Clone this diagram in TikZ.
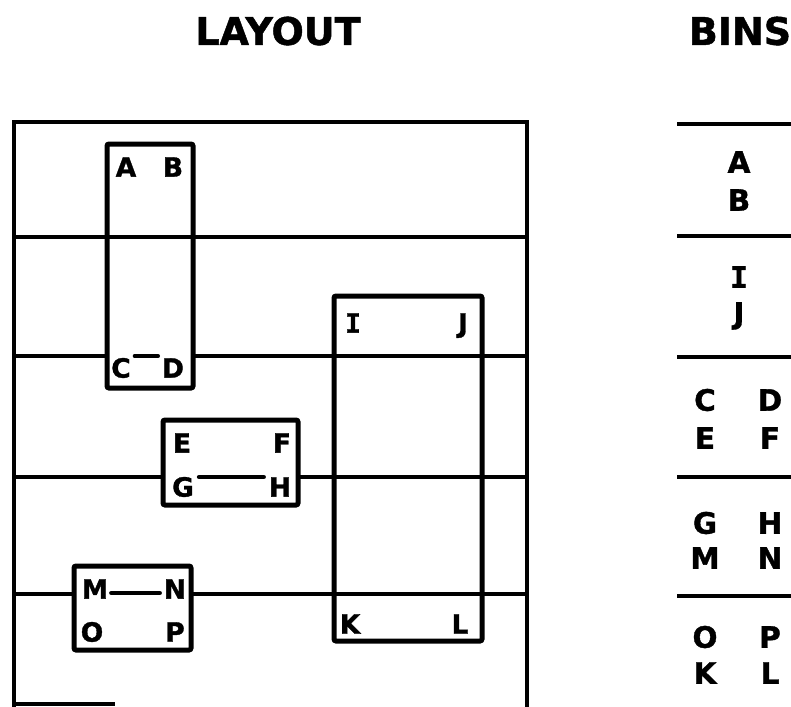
\documentclass[tikz,border=0pt]{standalone}
\usepackage{fontspec}
\newfontfamily\lett[BoldFeatures={FakeBold=1.2}]{DejaVu Sans}
\newfontfamily\serifI[BoldFeatures={FakeBold=1.2}]{DejaVu Sans Mono}
\begin{document}
\begin{tikzpicture}[x=1pt,y=-1pt,
  ln/.style={line width=4.5pt, line cap=round},
  frame/.style={line width=4.5pt},
  boxsh/.style={line width=5pt, rounded corners=2pt},
  lt/.style={font=\lett\bfseries\fontsize{26.5}{26.5}\selectfont, inner sep=0pt, text height=19.3pt, text depth=0pt, anchor=center},
  bt/.style={font=\lett\bfseries\fontsize{29.5}{29.5}\selectfont, inner sep=0pt, text height=21.5pt, text depth=0pt, anchor=center},
  tt/.style={font=\lett\bfseries\fontsize{38}{38}\selectfont, inner sep=0pt, text height=27.7pt, text depth=0pt, anchor=center}]
\useasboundingbox (0,0) rectangle (791,706);
\fill[white] (0,0) rectangle (791,706);
\begin{scope}
\clip (0,0) rectangle (791,706);
% titles
\node[tt] (tlayout) at (278,31) {LAYOUT};
\node[tt] (tbins) at (740,31) {BINS};
% frame
\draw[frame] (14,730) -- (14,122) -- (527,122) -- (527,730);
\draw[frame] (14,704) -- (115,704);
% horizontal lines
\draw[frame] (14,237) -- (527,237);
\draw[frame] (14,356) -- (107,356);
\draw[frame] (193,356) -- (527,356);
\draw[frame] (14,477) -- (163,477);
\draw[frame] (298,477) -- (527,477);
\draw[frame] (14,594) -- (74,594);
\draw[frame] (191,594) -- (527,594);
% boxes
\draw[boxsh] (107,144) rectangle (193,388);
\draw[boxsh] (163,420) rectangle (298,505);
\draw[boxsh] (74,566) rectangle (191,650);
\draw[boxsh] (334,296) rectangle (482,641);
% letters in layout
\node[lt] (A) at (126,167) {A};
\node[lt] (B) at (173,167) {B};
\node[lt] (C) at (121,368) {C};
\node[lt] (D) at (173,368) {D};
\node[lt] (E) at (182,443) {E};
\node[lt] (F) at (282,443) {F};
\node[lt] (G) at (183,487) {G};
\node[lt] (H) at (280,487) {H};
\node[lt] (M) at (95,589) {M};
\node[lt] (N) at (175,589) {N};
\node[lt] (O) at (92,632) {O};
\node[lt] (P) at (175,632) {P};
\node[lt] (I) at (353,323) {\serifI I};
\node[lt] (J) at (463,323) {J};
\node[lt] (K) at (350,624) {K};
\node[lt] (L) at (460,624) {L};
% short connectors
\draw[ln] (C.east |- 0,356) ++(4,0) -- ([xshift=-4pt]D.west |- 0,356);
\draw[ln] (G.east |- 0,477) ++(5,0) -- ([xshift=-5pt]H.west |- 0,477);
\draw[ln] (M.east |- 0,593) ++(3,0) -- ([xshift=-4pt]N.west |- 0,593);
% bins
\foreach \yy in {124,236,357,477,596} \draw[frame] (677,\yy) -- (795,\yy);
\node[bt] (bA) at (739,162) {A};
\node[bt] (bB) at (739,200) {B};
\node[bt] (bI) at (739,277) {\serifI I};
\node[bt] (bJ) at (739,313) {J};
\node[bt] (bC) at (705,400) {C};
\node[bt] (bD) at (770,400) {D};
\node[bt] (bE) at (705,438) {E};
\node[bt] (bF) at (770,438) {F};
\node[bt] (bG) at (705,523) {G};
\node[bt] (bH) at (770,523) {H};
\node[bt] (bM) at (705,558) {M};
\node[bt] (bN) at (770,558) {N};
\node[bt] (bO) at (705,637) {O};
\node[bt] (bP) at (770,637) {P};
\node[bt] (bK) at (705,673) {K};
\node[bt] (bL) at (770,673) {L};
\end{scope}
\end{tikzpicture}
\end{document}
